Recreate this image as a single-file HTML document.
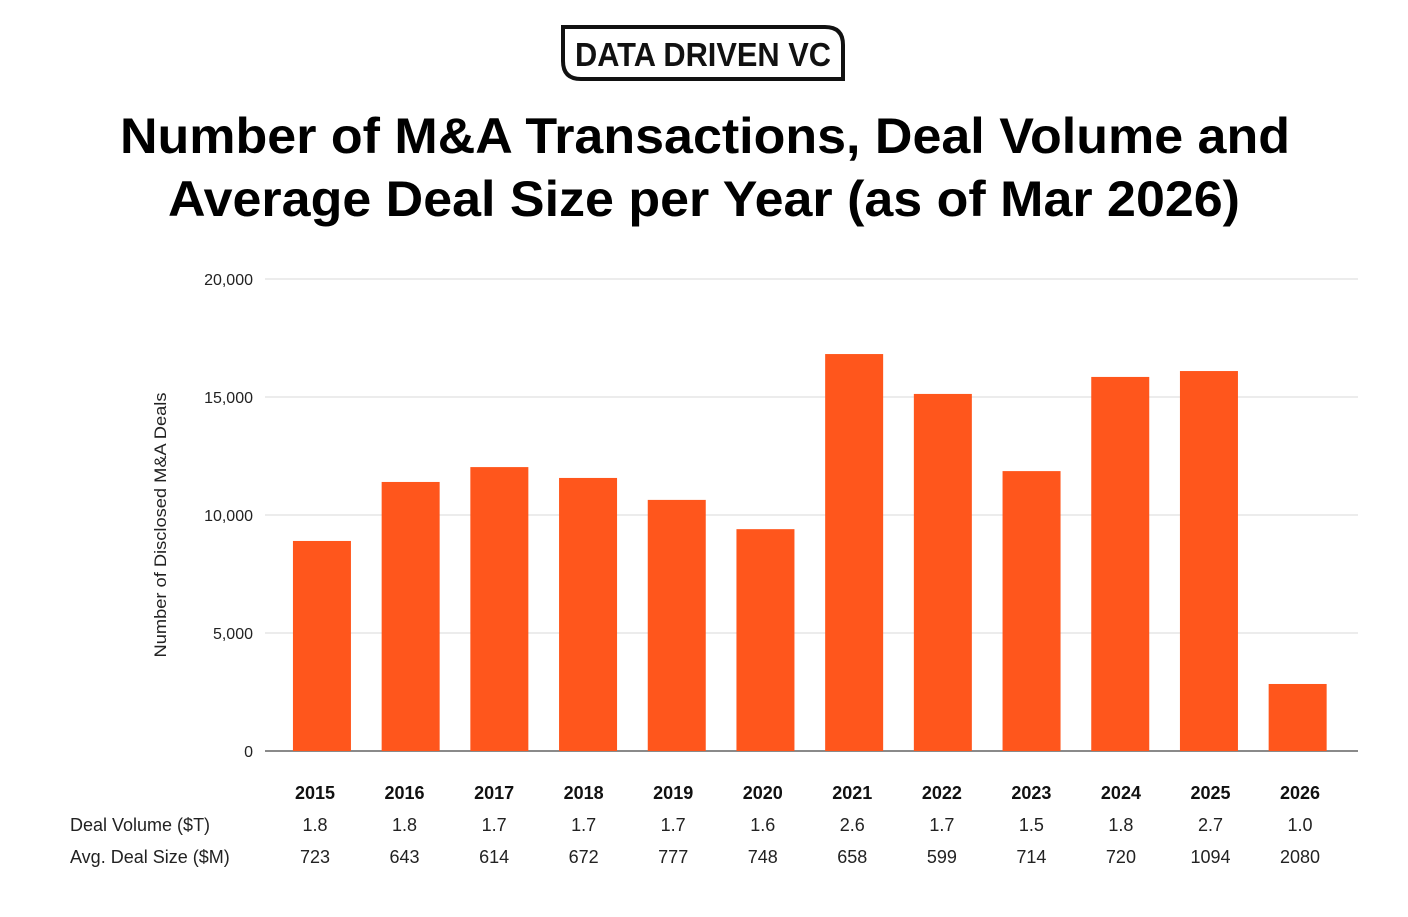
<!DOCTYPE html>
<html><head><meta charset="utf-8">
<style>
body{margin:0;background:#fff;width:1408px;height:912px;overflow:hidden;font-family:"Liberation Sans",sans-serif;}
</style></head>
<body>
<svg id="chart" width="1408" height="912" xmlns="http://www.w3.org/2000/svg">
  <g>
    <path d="M563,27 H825 Q843,27 843,45 V79 H581 Q563,79 563,61 Z" fill="none" stroke="#111" stroke-width="4"/>
    <text x="703" y="66" text-anchor="middle" font-size="33" font-weight="bold" fill="#111" textLength="256" lengthAdjust="spacingAndGlyphs">DATA DRIVEN VC</text>
  </g>
  <text x="705" y="153" text-anchor="middle" font-size="50" font-weight="bold" fill="#000" textLength="1170" lengthAdjust="spacingAndGlyphs">Number of M&amp;A Transactions, Deal Volume and</text>
  <text x="704" y="216" text-anchor="middle" font-size="50" font-weight="bold" fill="#000" textLength="1072" lengthAdjust="spacingAndGlyphs">Average Deal Size per Year (as of Mar 2026)</text>
  <text transform="translate(166,525) rotate(-90)" text-anchor="middle" font-size="17" fill="#222" textLength="265" lengthAdjust="spacingAndGlyphs">Number of Disclosed M&amp;A Deals</text>
  <g id="grid"></g>
  <g id="bars"></g>
  <g id="labels"></g>
</svg>
<script>
const years=["2015","2016","2017","2018","2019","2020","2021","2022","2023","2024","2025","2026"];
const deals=[8900,11400,12030,11570,10640,9400,16820,15130,11860,15850,16100,2840];
const dealVolume=["1.8","1.8","1.7","1.7","1.7","1.6","2.6","1.7","1.5","1.8","2.7","1.0"];
const avgSize=["723","643","614","672","777","748","658","599","714","720","1094","2080"];
const yTicks=[0,5000,10000,15000,20000];
const NS="http://www.w3.org/2000/svg";
const y0=751,y1=279,yMax=20000,bandStart=277.6,band=88.7,barW=58;
const yS=v=>y0-(v/yMax)*(y0-y1);
const xC=i=>bandStart+band*(i+0.5);
const xL=i=>315+89.55*i;
function mk(tag,attrs,parent,txt){const e=document.createElementNS(NS,tag);for(const k in attrs)e.setAttribute(k,attrs[k]);if(txt!==undefined)e.textContent=txt;document.getElementById(parent).appendChild(e);return e;}
yTicks.forEach(t=>{
  const l=mk('line',{x1:265,x2:1358,y1:yS(t),y2:yS(t),stroke:t===0?'#444':'#d9d9d9','stroke-width':t===0?1.3:1},'grid');
  
  
  const tx=mk('text',{x:253,y:yS(t)+6,'text-anchor':'end','font-size':16,fill:'#222'},'grid',t.toLocaleString('en-US'));
  
  
});
deals.forEach((v,i)=>{
  const r=mk('rect',{x:xC(i)-barW/2,y:yS(v),width:barW,height:y0-yS(v),fill:'#ff561c'},'bars');
  
  
  const a=mk('text',{x:xL(i),y:799,'text-anchor':'middle','font-size':18,'font-weight':'bold',fill:'#111'},'labels',years[i]);
  
  
  const b=mk('text',{x:xL(i),y:831,'text-anchor':'middle','font-size':18,fill:'#222'},'labels',dealVolume[i]);
  
  
  const c=mk('text',{x:xL(i),y:863,'text-anchor':'middle','font-size':18,fill:'#222'},'labels',avgSize[i]);
  
  
});
const r1=mk('text',{x:70,y:831,'font-size':18,fill:'#222'},'labels','Deal Volume ($T)');


const r2=mk('text',{x:70,y:863,'font-size':18,fill:'#222'},'labels','Avg. Deal Size ($M)');


</script>
</body></html>
